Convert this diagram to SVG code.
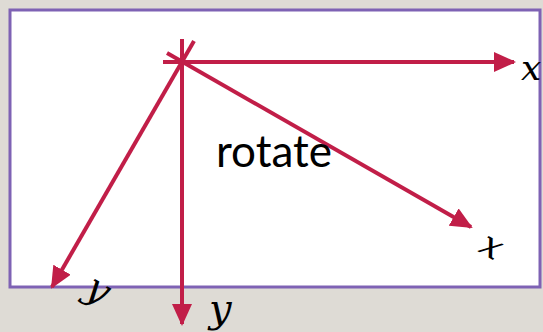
<svg xmlns="http://www.w3.org/2000/svg" width="543" height="332" viewBox="0 0 543 332">
<style>
.ax{stroke:#C11E48;stroke-width:4;fill:none;marker-end:url(#ah)}
.lbl{font-family:"DejaVu Serif","Liberation Serif",serif;font-style:italic;fill:#000}
</style>
<defs>
<marker id="ah" markerUnits="userSpaceOnUse" markerWidth="22" markerHeight="20" viewBox="0 0 22 20" refX="20" refY="10" orient="auto">
<path d="M0,0 L22,10 L0,20 Z" fill="#C11E48"/>
</marker>
</defs>
<rect x="0" y="0" width="543" height="332" fill="#DEDBD5"/>
<g id="frame">
<rect x="10" y="10" width="530" height="277" fill="#fff" stroke="#7E62B4" stroke-width="3"/>
</g>
<g id="connectors">
<line class="ax" x1="163" y1="62" x2="514" y2="62"/>
<line class="ax" x1="182" y1="39" x2="182" y2="324"/>
<line class="ax" x1="167" y1="53" x2="471" y2="227"/>
<line class="ax" x1="194" y1="41" x2="52" y2="287"/>
</g>
<g id="labels">
<text class="lbl" x="521" y="80" font-size="36">x</text>
<text class="lbl" x="209" y="322" font-size="40">y</text>
<text class="lbl" font-size="36" text-anchor="middle" transform="translate(486,256) rotate(30)">x</text>
<text class="lbl" font-size="38" text-anchor="middle" transform="translate(92,300) rotate(30)">y</text>
<text x="216" y="167" font-family="Lato,'Open Sans',sans-serif" font-size="44" fill="#000">rotate</text>
</g>
</svg>
